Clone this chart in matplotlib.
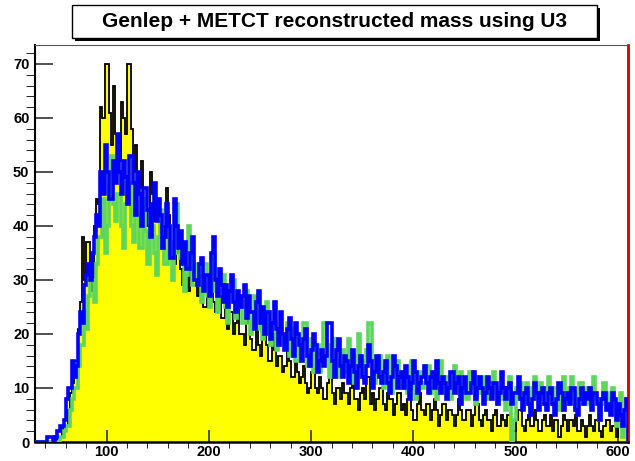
import numpy as np
import matplotlib.pyplot as plt
from matplotlib.patches import Rectangle

# histogram binning: 2 GeV bins from 30 to 610
edges = np.arange(30, 612, 2)

# yellow filled histogram (black outline)
h_yellow = [
    0, 0, 0, 0, 0, 0, 0, 0, 0, 0,
    0, 1, 1, 3, 2, 3, 6, 9, 11, 15,
    15, 21, 26, 38, 30, 37, 37, 33, 28, 40,
    45, 44, 62, 60, 70, 70, 61, 55, 66, 57,
    52, 52, 63, 60, 57, 70, 70, 58, 50, 55,
    47, 47, 52, 44, 44, 40, 50, 46, 41, 41,
    45, 38, 36, 40, 47, 42, 37, 37, 33, 35,
    38, 32, 29, 33, 33, 28, 35, 36, 30, 27,
    31, 29, 25, 25, 30, 28, 33, 26, 24, 27,
    27, 23, 23, 26, 21, 24, 24, 20, 22, 27,
    20, 20, 18, 22, 24, 19, 17, 17, 21, 18,
    16, 19, 22, 18, 15, 15, 20, 17, 14, 16,
    16, 13, 14, 18, 15, 12, 12, 15, 13, 11,
    12, 14, 11, 9, 10, 13, 13, 10, 9, 12,
    10, 8, 8, 11, 12, 9, 7, 10, 10, 8,
    11, 9, 9, 7, 10, 12, 8, 8, 6, 9,
    10, 8, 12, 12, 7, 9, 6, 8, 10, 10,
    7, 6, 9, 8, 8, 5, 7, 9, 9, 6,
    7, 5, 8, 8, 6, 4, 4, 7, 9, 6,
    5, 7, 7, 4, 6, 8, 6, 3, 5, 7,
    7, 4, 6, 6, 5, 3, 5, 8, 6, 4,
    4, 6, 6, 3, 5, 7, 7, 4, 3, 5,
    6, 4, 4, 2, 5, 6, 3, 3, 5, 4,
    3, 5, 5, 4, 2, 4, 6, 6, 3, 2,
    4, 5, 3, 3, 6, 4, 2, 2, 4, 5,
    3, 3, 5, 2, 4, 4, 1, 3, 5, 4,
    2, 4, 4, 3, 5, 2, 2, 4, 3, 1,
    3, 5, 3, 2, 4, 4, 2, 1, 3, 4,
    4, 2, 3, 3, 1, 4, 5, 2, 3, 3,
]

h_green = [
    0, 0, 0, 0, 0, 0, 0, 0, 0, 0,
    0, 0, 1, 1, 2, 3, 3, 6, 8, 10,
    10, 14, 18, 18, 24, 21, 27, 30, 30, 26,
    33, 38, 38, 45, 35, 40, 48, 53, 44, 41,
    46, 46, 40, 36, 44, 48, 48, 40, 37, 44,
    42, 36, 36, 45, 39, 33, 40, 40, 35, 31,
    38, 43, 36, 33, 33, 40, 37, 30, 35, 44,
    37, 34, 34, 28, 31, 40, 36, 29, 29, 33,
    30, 26, 33, 33, 27, 25, 30, 35, 28, 24,
    28, 28, 31, 25, 22, 26, 30, 30, 23, 25,
    26, 22, 22, 28, 24, 20, 23, 27, 21, 21,
    24, 19, 23, 26, 20, 18, 22, 22, 17, 20,
    21, 18, 18, 22, 16, 19, 21, 15, 15, 19,
    17, 22, 22, 14, 17, 19, 13, 16, 18, 13,
    15, 22, 22, 18, 12, 16, 19, 15, 12, 14,
    17, 13, 13, 19, 15, 11, 16, 14, 20, 12,
    13, 15, 17, 22, 22, 13, 11, 14, 16, 12,
    10, 14, 16, 12, 9, 13, 15, 15, 11, 10,
    13, 11, 9, 12, 15, 10, 8, 12, 13, 10,
    11, 14, 14, 9, 10, 13, 8, 11, 15, 12,
    9, 12, 12, 8, 11, 14, 10, 9, 13, 9,
    11, 8, 13, 13, 10, 7, 12, 11, 9, 12,
    10, 8, 11, 11, 13, 9, 7, 10, 10, 8,
    6, 9, 12, 0, 4, 10, 8, 11, 9, 7,
    11, 9, 6, 10, 12, 8, 8, 11, 7, 10,
    8, 12, 9, 7, 10, 10, 6, 9, 12, 8,
    7, 10, 12, 8, 6, 9, 11, 11, 7, 9,
    10, 7, 9, 12, 8, 8, 4, 7, 11, 9,
    6, 8, 10, 5, 3, 7, 9, 1, 6, 8,
]

h_blue = [
    0, 0, 0, 0, 0, 0, 1, 1, 1, 0,
    1, 2, 3, 3, 4, 8, 10, 10, 15, 12,
    14, 20, 24, 22, 29, 31, 33, 30, 35, 38,
    42, 40, 50, 46, 55, 50, 45, 45, 52, 48,
    57, 50, 46, 52, 49, 44, 53, 53, 48, 42,
    50, 46, 40, 47, 47, 43, 38, 44, 48, 41,
    45, 42, 36, 38, 44, 40, 34, 34, 45, 40,
    36, 39, 33, 37, 32, 32, 35, 38, 30, 29,
    33, 34, 28, 31, 31, 27, 35, 38, 30, 27,
    32, 29, 26, 29, 25, 28, 31, 26, 24, 28,
    25, 27, 29, 23, 27, 24, 24, 21, 26, 28,
    22, 25, 20, 24, 24, 19, 22, 26, 21, 18,
    24, 20, 17, 21, 23, 19, 16, 22, 20, 18,
    15, 19, 21, 16, 14, 17, 20, 18, 13, 15,
    17, 14, 16, 22, 22, 15, 12, 17, 19, 14,
    12, 16, 15, 11, 14, 17, 13, 10, 14, 16,
    12, 11, 14, 18, 15, 10, 13, 16, 12, 11,
    13, 15, 11, 9, 12, 16, 14, 10, 12, 13,
    10, 14, 12, 8, 11, 15, 13, 9, 11, 12,
    14, 11, 9, 12, 13, 10, 15, 11, 9, 12,
    11, 8, 10, 13, 13, 9, 11, 12, 7, 10,
    12, 9, 9, 11, 13, 8, 10, 12, 10, 7,
    9, 12, 10, 8, 11, 11, 7, 9, 13, 10,
    8, 10, 11, 7, 9, 9, 12, 8, 6, 9,
    10, 7, 5, 8, 11, 9, 6, 9, 10, 7,
    6, 9, 10, 7, 5, 8, 11, 9, 6, 8,
    9, 7, 10, 10, 6, 5, 8, 10, 7, 9,
    8, 10, 6, 9, 9, 7, 4, 8, 9, 6,
    7, 5, 9, 8, 4, 7, 5, 3, 6, 8,
]

title = "Genlep + METCT reconstructed mass using U3"
x_ticks = [100, 200, 300, 400, 500, 600]
y_ticks = [0, 10, 20, 30, 40, 50, 60, 70]

W, H = 635, 461
fig = plt.figure(figsize=(W / 100, H / 100), dpi=100)
ax = fig.add_axes([35 / W, 1 - 442 / H, 593 / W, 397 / H])

ax.stairs(h_yellow, edges, fill=True, color='#ffff00', zorder=1)
ax.stairs(h_yellow, edges, color='black', linewidth=1.3, zorder=2)
ax.stairs(h_green, edges, color='#5cd65c', linewidth=2.6, zorder=3)
ax.stairs(h_blue, edges, color='#0000ff', linewidth=2.6, zorder=4)

ax.set_xlim(30, 610)
ax.set_ylim(0, 73.5)

ax.set_xticks(x_ticks)
ax.set_xticks(np.arange(40, 610, 20), minor=True)
ax.set_yticks(y_ticks)
ax.set_yticks(np.arange(0, 74, 2), minor=True)
ax.tick_params(direction='in', width=1.2, colors='#333333', labelcolor='black')
ax.tick_params(axis='x', which='major', length=9, pad=2)
ax.tick_params(axis='x', which='minor', length=4.5)
ax.tick_params(axis='y', which='major', length=13, pad=4)
ax.tick_params(axis='y', which='minor', length=6.5)
for lab in ax.get_xticklabels() + ax.get_yticklabels():
    lab.set_fontfamily('Liberation Sans')
    lab.set_fontweight('bold')
    lab.set_fontsize(10.5)

ax.spines['left'].set_linewidth(1.5)
ax.spines['bottom'].set_linewidth(1.8)
ax.spines['top'].set_color('#555555')
ax.spines['right'].set_color('#cc0000')
ax.spines['right'].set_linewidth(2)

# title box with shadow (ROOT style)
fig.patches.append(Rectangle((75 / W, 1 - 41 / H), 525 / W, 33 / H,
                             transform=fig.transFigure, facecolor='black', edgecolor='none'))
fig.patches.append(Rectangle((72 / W, 1 - 38 / H), 525 / W, 33 / H,
                             transform=fig.transFigure, facecolor='white', edgecolor='black', linewidth=1))
fig.text(334.5 / W, 1 - 21.5 / H, title, ha='center', va='center',
         fontfamily='Liberation Sans', fontweight='bold', fontsize=15)

fig.savefig('out.png', dpi=100)
